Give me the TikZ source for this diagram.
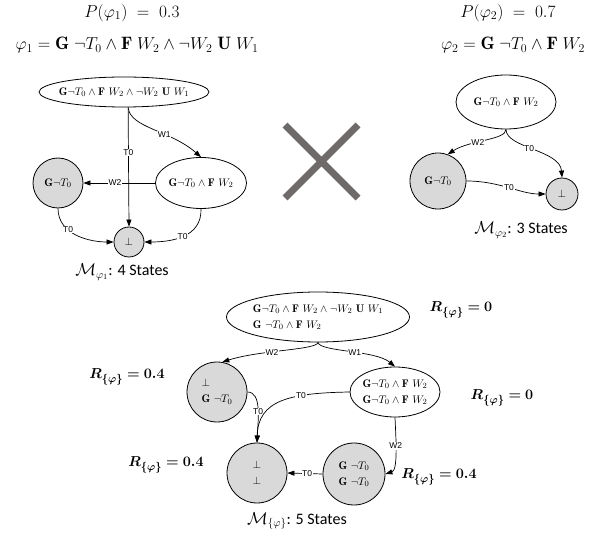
\documentclass[tikz,border=0pt]{standalone}
\usepackage{amsmath}
\usepackage{amssymb}
\usepackage{bm}
\usepackage{fontspec}
\newfontfamily\lblfont{Liberation Sans}
\newfontfamily\capfont{Carlito}
\usetikzlibrary{arrows.meta,shapes.geometric}
\definecolor{stategray}{HTML}{D9D9D9}
\definecolor{crossgray}{HTML}{6E6A6A}
\newcommand{\fG}{\mathbf{G}}
\newcommand{\fF}{\mathbf{F}}
\newcommand{\fU}{\mathbf{U}}
\tikzset{
  st/.style={draw, line width=.8pt, align=left, font=\fontsize{11}{16}\selectfont},
  ell/.style={st, ellipse, fill=white, inner xsep=-30pt, inner ysep=-8pt},
  circ/.style={st, circle, fill=stategray, inner sep=0pt},
  ar/.style={-{Triangle[length=7pt,width=5pt]}, line width=.7pt},
  el/.style={font=\lblfont\fontsize{8.5}{9}\selectfont, fill=white, inner sep=.6pt},
  big/.style={font=\fontsize{18}{21}\selectfont},
  capt/.style={font=\fontsize{16}{18}\selectfont},
  rew/.style={font=\fontsize{15}{17}\selectfont},
}
\begin{document}
\begin{tikzpicture}[x=1pt,y=-1pt]
  \useasboundingbox (0,0) rectangle (592,537);
  \node[big] (p1) at (132,13) {$P(\varphi_1)\;=\;0.3$};
  \node[big] (f1) at (137,45) {$\varphi_1 = \fG\;\neg T_0 \wedge \fF\;W_2 \wedge \neg W_2\;\fU\;W_1$};
  \node[big] (p2) at (508,13) {$P(\varphi_2)\;=\;0.7$};
  \node[big] (f2) at (513,45) {$\varphi_2 = \fG\;\neg T_0 \wedge \fF\;W_2$};

  \node[ell, minimum width=170, minimum height=30] (a0) at (124,92) {$\fG\neg T_0 \wedge \fF\ W_2 \wedge \neg W_2\ \fU\ W_1$};
  \node[circ, minimum size=50] (a1) at (58,183) {$\fG\neg T_0$};
  \node[ell, minimum width=91, minimum height=51] (a2) at (201,183) {$\fG\neg T_0 \wedge \fF\ W_2$};
  \node[circ, minimum size=30] (a3) at (129,242) {$\bot$};
  \draw[ar] (a0.-75) -- node[el, pos=.38] {T0} (a3.north);
  \draw[ar] (a0.-75) .. controls (130,128) and (170,130) .. node[el, pos=.62] {W1} (a2.north);
  \draw[ar] (a2.west) -- node[el, pos=.56] {W2} (a1.east);
  \draw[ar] (a1.south) .. controls (58,235) and (90,242) .. node[el, pos=.35] {T0} (a3.west);
  \draw[ar] (a2.south) .. controls (202,238) and (170,242) .. node[el, pos=.5] {T0} (a3.east);
  \node[capt] (m1) at (122,272) {$\mathcal{M}_{\varphi_1}$\capfont: 4 States};

  \draw[crossgray, line width=7pt] (285,125) -- (358,198) (285,198) -- (358,125);

  \node[ell, minimum width=100, minimum height=54] (b0) at (506,102) {$\fG\neg T_0 \wedge \fF\ W_2$};
  \node[circ, minimum size=56] (b1) at (438,181) {$\fG\neg T_0$};
  \node[circ, minimum size=32] (b2) at (562,194) {$\bot$};
  \draw[ar] (b0.south) .. controls (506,140) and (470,140) .. node[el, pos=.6] {W2} (b1.70);
  \draw[ar] (b0.south) .. controls (506,148) and (560,150) .. node[el, pos=.45] {T0} (b2.north);
  \draw[ar] (b1.east) .. controls (500,181) and (520,194) .. node[el, pos=.5] {T0} (b2.west);
  \node[capt] (m2) at (521,230) {$\mathcal{M}_{\varphi_2}$\capfont: 3 States};

  \node[ell, minimum width=183, minimum height=50] (c0) at (318,317) {$\fG\neg T_0 \wedge \fF\ W_2 \wedge \neg W_2\ \fU\ W_1$\\$\fG\ \neg T_0 \wedge \fF\ W_2$};
  \node[circ, minimum size=60] (c1) at (217,392) {$\bot$\\$\fG\ \neg T_0$};
  \node[ell, minimum width=90, minimum height=50] (c2) at (395,392) {$\fG\neg T_0 \wedge \fF\ W_2$\\$\fG\neg T_0 \wedge \fF\ W_2$};
  \node[circ, minimum size=60, align=center] (c3) at (257,473) {$\bot$\\$\bot$};
  \node[circ, minimum size=62] (c4) at (354,474) {$\fG\ \neg T_0$\\$\fG\ \neg T_0$};
  \draw[ar] (c0.south) .. controls (317,350) and (260,350) .. node[el, pos=.6] {W2} (c1.80);
  \draw[ar] (c0.south) .. controls (320,352) and (375,350) .. node[el, pos=.55] {W1} (c2.north);
  \draw[ar] (c1.east) .. controls (262,392) and (258,420) .. node[el, pos=.55] {T0} (c3.north);
  \draw[ar] (c2.west) .. controls (290,393) and (258,400) .. node[el, pos=.32] {T0} (c3.north);
  \draw[ar] (c2.south) .. controls (396,440) and (398,470) .. node[el, pos=.4] {W2} (c4.east);
  \draw[ar] (c4.west) -- node[el, pos=.44] {T0} (c3.east);
  \node[rew] (r0) at (461,310) {$\bm{R_{\{\varphi\}} = 0}$};
  \node[rew] (r1) at (127,377) {$\bm{R_{\{\varphi\}} = 0.4}$};
  \node[rew] (r2) at (502,398) {$\bm{R_{\{\varphi\}} = 0}$};
  \node[rew] (r3) at (166,465) {$\bm{R_{\{\varphi\}} = 0.4}$};
  \node[rew] (r4) at (439,477) {$\bm{R_{\{\varphi\}} = 0.4}$};
  \node[capt] (m3) at (297,521) {$\mathcal{M}_{\{\varphi\}}$\capfont: 5 States};
\end{tikzpicture}
\end{document}
